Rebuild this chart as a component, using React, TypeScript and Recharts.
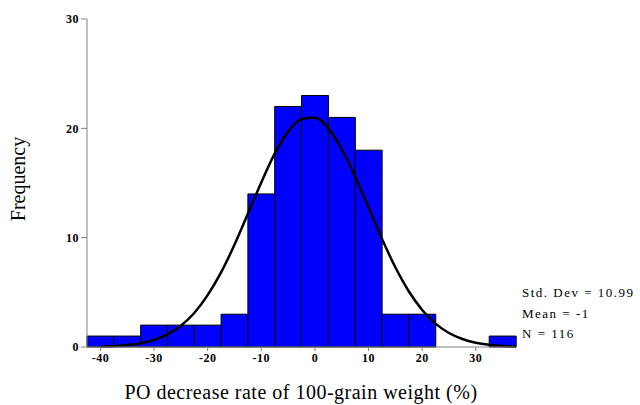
import React from 'react';
import { ComposedChart, Bar, Line, XAxis, YAxis } from 'recharts';

// histogram bins (centres, width 5)
const binCenters = [-40, -35, -30, -25, -20, -15, -10, -5, 0, 5, 10, 15, 20, 25, 30, 35];
const binCounts = [1, 1, 2, 2, 2, 3, 14, 22, 23, 21, 18, 3, 3, 0, 0, 1];

// fitted normal curve
const curveX = [-40, -37.5, -35, -32.5, -30, -27.5, -25, -22.5, -20, -17.5, -15, -12.5, -10, -7.5, -5, -2.5, 0,
  2.5, 5, 7.5, 10, 12.5, 15, 17.5, 20, 22.5, 25, 27.5, 30, 32.5, 35, 37.5];
const curveY = [0.04, 0.08, 0.18, 0.35, 0.65, 1.15, 1.95, 3.11, 4.74, 6.82, 9.35, 12.19, 15.05, 17.68, 19.7, 20.86, 20.96,
  20.0, 18.1, 15.6, 12.76, 9.9, 7.29, 5.1, 3.39, 2.14, 1.28, 0.73, 0.39, 0.2, 0.1, 0.05];

const yTicks = [0, 10, 20, 30];
const stats = ['Std. Dev = 10.99', 'Mean = -1', 'N = 116'];

const bins = binCenters.map((c, i) => ({ bin: c, count: binCounts[i] }));
const curve = curveX.map((x, i) => ({ x, y: curveY[i] }));

const serif = '"Liberation Serif", "Times New Roman", serif';
const tickStyle = { fill: '#000', fontSize: 12, fontFamily: serif, fontWeight: 'bold', letterSpacing: 0.5 };

export default function App() {
  return (
    <div style={{ position: 'absolute', left: 0, top: 0, width: 640, height: 405, background: '#fff' }}>
      <ComposedChart
        width={640}
        height={405}
        data={bins}
        barCategoryGap={0}
        margin={{ top: 19, right: 124, left: 47, bottom: 28 }}
      >
        <XAxis
          xAxisId="bins"
          dataKey="bin"
          type="category"
          interval={1}
          height={30}
          stroke="#808080"
          tickSize={4}
          tick={tickStyle}
        />
        <XAxis
          xAxisId="curve"
          dataKey="x"
          type="number"
          domain={[-42.5, 37.5]}
          allowDataOverflow
          hide
        />
        <YAxis
          type="number"
          domain={[0, 30]}
          ticks={yTicks}
          width={40}
          stroke="#808080"
          tickSize={6}
          tick={tickStyle}
        />
        <Bar
          xAxisId="bins"
          dataKey="count"
          fill="#0000ff"
          stroke="#000"
          strokeWidth={1}
          isAnimationActive={false}
        />
        <Line
          xAxisId="curve"
          data={curve}
          dataKey="y"
          type="monotone"
          stroke="#000"
          strokeWidth={2.5}
          dot={false}
          isAnimationActive={false}
        />
        <text
          x={18}
          y={179}
          transform="rotate(-90 18 179)"
          textAnchor="middle"
          dominantBaseline="central"
          fontFamily={serif}
          fontSize={20}
        >
          Frequency
        </text>
        <text
          x={301}
          y={399}
          textAnchor="middle"
          fontFamily={serif}
          fontSize={20}
          letterSpacing={0.5}
        >
          PO decrease rate of 100-grain weight (%)
        </text>
        {stats.map((s, i) => (
          <text
            key={s}
            x={522}
            y={297 + i * 20.5}
            fontFamily={serif}
            fontSize={13}
            letterSpacing={1.5}
          >
            {s}
          </text>
        ))}
      </ComposedChart>
    </div>
  );
}
